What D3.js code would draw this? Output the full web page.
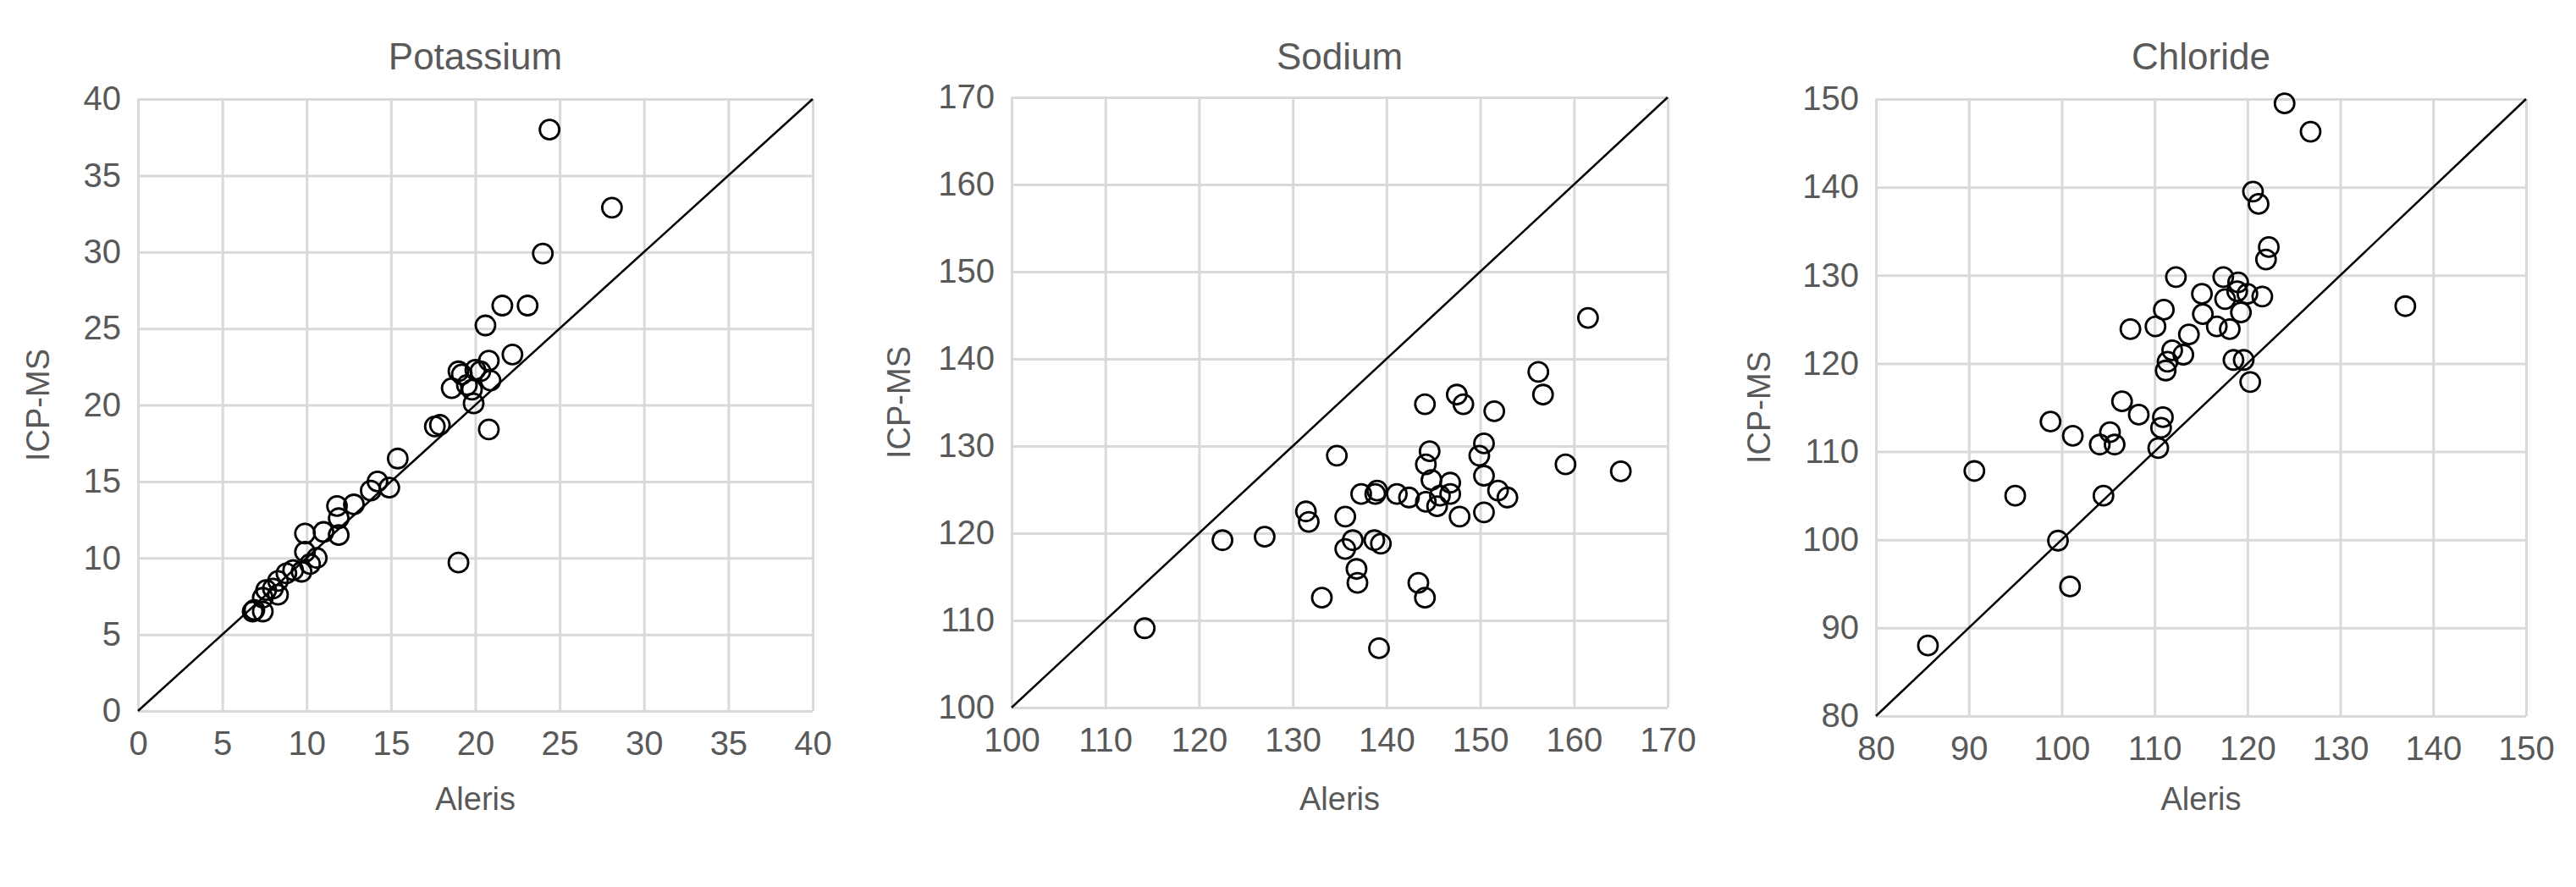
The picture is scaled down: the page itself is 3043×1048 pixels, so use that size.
<!DOCTYPE html>
<html><head><meta charset="utf-8">
<script src="https://cdn.jsdelivr.net/npm/d3@7"></script>
<style>body{margin:0;background:#fff}svg{display:block}</style>
</head><body>
<script>
const titles = ["Potassium","Sodium","Chloride"];
const domains = [[0,40],[100,170],[80,150]];
const tickSteps = [5,10,10];
const potassiumX = [24.4,28.1,24.0,21.6,23.1,20.6,22.2,20.8,19.0,19.2,18.6,19.5,20.0,20.3,20.9,19.8,19.9,20.8,19.0,17.6,17.9,15.4,14.9,14.2,13.8,12.8,11.8,11.9,11.9,11.0,9.9,9.9,10.6,10.2,9.7,9.2,8.8,8.3,8.0,8.3,7.6,7.4,6.8,6.9,7.4];
const potassiumY = [38.0,32.9,29.9,26.5,26.5,25.2,23.3,22.9,22.2,22.0,21.1,21.3,22.3,22.2,21.6,21.0,20.1,18.4,9.7,18.6,18.7,16.5,14.6,15.0,14.4,13.5,13.4,12.6,11.5,11.7,11.6,10.4,10.0,9.6,9.1,9.2,9.0,8.5,8.0,7.6,7.9,7.4,6.5,6.6,6.5];
const sodiumX = [114.2,122.5,127.0,131.4,131.7,134.7,133.1,135.6,135.6,136.4,136.8,136.9,137.3,138.8,139.0,138.7,139.4,139.2,141.1,142.4,143.4,144.1,144.1,144.6,144.2,144.8,144.2,145.4,145.7,146.8,146.8,147.5,148.2,147.8,149.9,150.4,150.4,150.4,151.5,151.9,152.9,156.2,156.7,159.1,161.5,165.0];
const sodiumY = [109.1,119.2,119.6,122.5,121.3,128.9,112.6,121.9,118.2,119.2,115.9,114.3,124.5,124.5,124.9,119.2,118.8,106.8,124.5,124.1,114.3,112.6,134.8,129.4,127.9,126.1,123.6,123.1,124.3,125.8,124.5,135.9,134.8,121.9,128.9,130.3,126.6,122.4,134.0,124.9,124.1,138.5,135.9,127.9,144.7,127.1];
const chlorideX = [85.6,90.6,95.0,98.8,99.6,100.9,101.2,104.1,104.5,105.2,105.7,106.5,107.4,108.3,110.1,110.4,110.7,110.9,111.0,111.2,111.4,111.9,112.3,113.1,113.7,115.1,115.2,116.7,117.4,117.6,118.1,118.5,118.9,119.0,119.3,119.6,120.0,120.3,120.6,121.2,121.6,122.0,122.3,124.0,126.8,137.0];
const chlorideY = [88.0,107.8,105.0,113.4,99.9,94.7,111.8,110.8,105.0,112.2,110.8,115.7,123.9,114.2,124.2,110.4,112.7,113.9,126.1,119.2,120.2,121.5,129.8,121.0,123.3,127.9,125.6,124.2,129.8,127.3,123.9,120.4,128.2,129.2,125.8,120.4,127.9,117.9,139.5,138.1,127.6,131.8,133.2,149.5,146.3,126.5];
const xs=[potassiumX,sodiumX,chlorideX], ys=[potassiumY,sodiumY,chlorideY];

const W=3043,H=1048;
const svg=d3.select("body").append("svg").attr("width",W).attr("height",H);
const plots=[{l:163,r:960,t:117,b:840,yl:45},{l:1195,r:1970,t:115,b:836,yl:1062},{l:2216,r:2984,t:117,b:846,yl:2078}];
const txt="#595959",grid="#d9d9d9",font="'Liberation Sans',Arial,sans-serif";
plots.forEach((p,i)=>{
  const d=domains[i];
  const x=d3.scaleLinear().domain(d).range([p.l,p.r]);
  const y=d3.scaleLinear().domain(d).range([p.b,p.t]);
  const ticks=d3.range(d[0],d[1]+0.001,tickSteps[i]);
  const g=svg.append("g");
  g.append("g").attr("transform",`translate(0,${p.b})`)
   .call(d3.axisBottom(x).tickValues(ticks).tickSize(-(p.b-p.t)).tickPadding(24))
   .call(a=>{a.select(".domain").remove();a.selectAll("line").attr("stroke",grid).attr("stroke-width",3);
     a.selectAll("text").attr("fill",txt).style("font-size","40px").style("font-family",font);});
  g.append("g").attr("transform",`translate(${p.l},0)`)
   .call(d3.axisLeft(y).tickValues(ticks).tickSize(-(p.r-p.l)).tickPadding(20))
   .call(a=>{a.select(".domain").remove();a.selectAll("line").attr("stroke",grid).attr("stroke-width",3);
     a.selectAll("text").attr("fill",txt).style("font-size","40px").style("font-family",font);});
  g.append("line").attr("x1",x(d[0])).attr("y1",y(d[0])).attr("x2",x(d[1])).attr("y2",y(d[1]))
   .attr("stroke","#000").attr("stroke-width",2.5);
  g.selectAll("circle.pt").data(xs[i].map((v,j)=>[v,ys[i][j]])).join("circle")
   .attr("cx",q=>x(q[0])).attr("cy",q=>y(q[1])).attr("r",11.5)
   .attr("fill","none").attr("stroke","#000").attr("stroke-width",2.8);
  const cx=(p.l+p.r)/2;
  g.append("text").attr("x",cx).attr("y",82).attr("text-anchor","middle").attr("fill",txt)
   .style("font-size","44px").style("font-family",font).text(titles[i]);
  g.append("text").attr("x",cx).attr("y",957).attr("text-anchor","middle").attr("fill",txt)
   .style("font-size","38px").style("font-family",font).text("Aleris");
  g.append("text").attr("transform",`translate(${p.yl+13},${(p.t+p.b)/2}) rotate(-90)`).attr("text-anchor","middle").attr("fill",txt)
   .style("font-size","38px").style("font-family",font).text("ICP-MS");
});
</script>
</body></html>
